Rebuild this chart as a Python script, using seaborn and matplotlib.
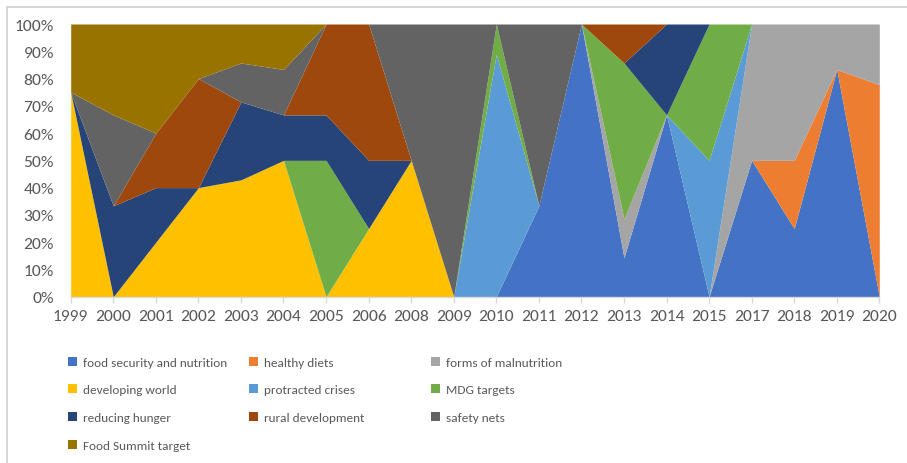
import matplotlib
matplotlib.use("Agg")
import matplotlib.pyplot as plt
from matplotlib import font_manager
from matplotlib.patches import Patch, Rectangle
from matplotlib.ticker import PercentFormatter
import seaborn as sns
import pandas as pd
import numpy as np

years = ['1999', '2000', '2001', '2002', '2003', '2004', '2005', '2006', '2008', '2009',
         '2010', '2011', '2012', '2013', '2014', '2015', '2017', '2018', '2019', '2020']

# term counts per year (plotted as share of the year's total)
food_security = [0, 0, 0, 0, 0, 0, 0, 0, 0, 0, 0, 1, 1, 1, 2, 0, 1, 1, 5, 0]
healthy_diets = [0, 0, 0, 0, 0, 0, 0, 0, 0, 0, 0, 0, 0, 0, 0, 0, 0, 1, 0, 7]
malnutrition = [0, 0, 0, 0, 0, 0, 0, 0, 0, 0, 0, 0, 0, 1, 0, 0, 1, 2, 1, 2]
developing_world = [3, 0, 1, 2, 3, 3, 0, 1, 1, 0, 0, 0, 0, 0, 0, 0, 0, 0, 0, 0]
protracted_crises = [0, 0, 0, 0, 0, 0, 0, 0, 0, 0, 8, 0, 0, 0, 0, 1, 0, 0, 0, 0]
mdg_targets = [0, 0, 0, 0, 0, 0, 3, 0, 0, 0, 1, 0, 0, 4, 0, 1, 0, 0, 0, 0]
reducing_hunger = [0, 1, 1, 0, 2, 1, 1, 1, 0, 0, 0, 0, 0, 0, 1, 0, 0, 0, 0, 0]
rural_development = [0, 0, 1, 2, 0, 0, 2, 2, 0, 0, 0, 0, 0, 1, 0, 0, 0, 0, 0, 0]
safety_nets = [0, 1, 0, 0, 1, 1, 0, 0, 1, 1, 0, 2, 0, 0, 0, 0, 0, 0, 0, 0]
food_summit = [1, 1, 2, 1, 1, 1, 0, 0, 0, 0, 0, 0, 0, 0, 0, 0, 0, 0, 0, 0]

labels = ['food security and nutrition', 'healthy diets', 'forms of malnutrition',
          'developing world', 'protracted crises', 'MDG targets',
          'reducing hunger', 'rural development', 'safety nets', 'Food Summit target']
colors = ['#4472C4', '#ED7D31', '#A5A5A5', '#FFC000', '#5B9BD5', '#70AD47',
          '#264478', '#9E480E', '#636363', '#997300']

df = pd.DataFrame(dict(zip(labels, [food_security, healthy_diets, malnutrition,
                                    developing_world, protracted_crises, mdg_targets,
                                    reducing_hunger, rural_development, safety_nets,
                                    food_summit])), index=years)
share = df.div(df.sum(axis=1), axis=0) * 100

sns.set_theme(style="white")
text_col = '#595959'
palette = sns.color_palette(colors)

# Calibri-like text: Carlito if present, else Lato at a narrower size
installed = {f.name for f in font_manager.fontManager.ttflist}
if 'Carlito' in installed:
    plt.rcParams['font.family'] = ['Carlito', 'DejaVu Sans']
    tick_size, leg_size, leg_space = 12.6, 9.5, 1.25
else:
    plt.rcParams['font.family'] = ['Lato', 'DejaVu Sans']
    tick_size, leg_size, leg_space = 11.5, 9.0, 1.22

W, H = 907, 464
fig = plt.figure(figsize=(W / 100, H / 100), dpi=100)
fig.patches.append(Rectangle((7 / W, -0.1), 1.1, 1 - 8 / H + 0.1, transform=fig.transFigure,
                             fill=False, edgecolor='#D0D0D0', linewidth=1.2, zorder=0))

ax = fig.add_axes([70.7 / W, 1 - 297.7 / H, (879.3 - 70.7) / W, (297.7 - 25) / H])
x = np.arange(len(years))
ax.stackplot(x, *[share[c].values for c in labels], colors=palette, linewidth=0)

ax.set_xlim(0, len(years) - 1)
ax.set_ylim(0, 100)
ax.set_xticks(x)
ax.set_xticklabels(years)
ax.set_yticks(np.arange(0, 101, 10))
ax.yaxis.set_major_formatter(PercentFormatter(decimals=0))
for s in ['top', 'right', 'left']:
    ax.spines[s].set_visible(False)
ax.spines['bottom'].set_color('#D9D9D9')
ax.spines['bottom'].set_linewidth(1)
ax.tick_params(axis='x', length=4, width=1, color='#D9D9D9', pad=5,
               labelsize=tick_size, labelcolor=text_col, bottom=True)
ax.tick_params(axis='y', length=0, pad=12, labelsize=tick_size, labelcolor=text_col)
ax.grid(False)

handles = [Patch(facecolor=c, edgecolor='none') for c in colors]
col_x = [68, 249, 431]
for ci in range(3):
    idx = list(range(ci, len(labels), 3))
    fig.legend([handles[i] for i in idx], [labels[i] for i in idx],
               loc='upper left', bbox_to_anchor=(col_x[ci] / W, 1 - 357.5 / H),
               frameon=False, fontsize=leg_size, labelcolor=text_col,
               handlelength=0.7, handleheight=0.7, handletextpad=0.45,
               labelspacing=leg_space, borderpad=0, borderaxespad=0)

fig.savefig('out.png', dpi=100)
